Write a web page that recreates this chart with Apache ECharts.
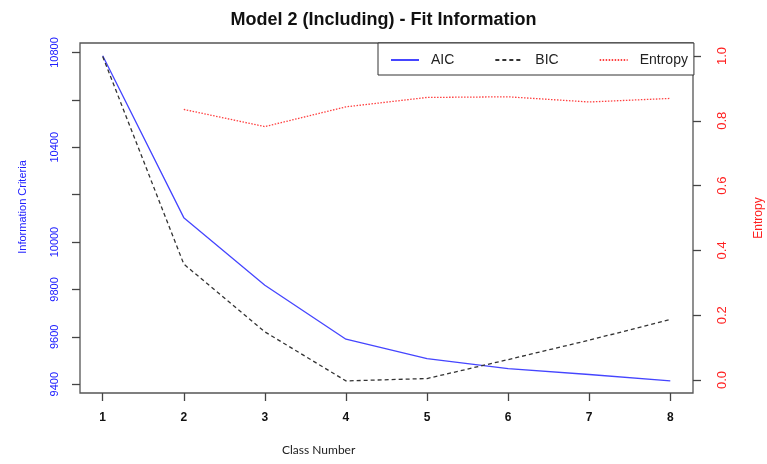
<!DOCTYPE html>
<html>
<head>
<meta charset="utf-8">
<script src="https://cdn.jsdelivr.net/npm/echarts@6.0.0/dist/echarts.min.js"></script>
<style>
  html, body { margin: 0; padding: 0; background: #fff; }
  #box { width: 767px; height: 464px; }
</style>
</head>
<body>
<div id="box"></div>
<script>
// values
const classes = [1, 2, 3, 4, 5, 6, 7, 8];
const aic = [10786, 10103, 9818, 9590, 9508, 9466, 9441, 9414];
const bic = [10783, 9907, 9621, 9414, 9424, 9504, 9586, 9673];
const entropy = [null, 0.835, 0.782, 0.843, 0.872, 0.874, 0.858, 0.869];

const icTicks = [9400, 9600, 9800, 10000, 10200, 10400, 10600, 10800];
const icLabels = [9400, 9600, 9800, 10000, 10400, 10800];
const entropyTicks = [0, 0.2, 0.4, 0.6, 0.8, 1.0];

const pairs = (vals) => classes.map((c, i) => [c, vals[i]]).filter(p => p[1] != null);

const font = 'Liberation Sans, Arial, sans-serif';
const chart = echarts.init(document.getElementById('box'));

chart.setOption({
    animation: false,
    title: [
        {
            text: 'Model 2 (Including) - Fit Information',
            left: 'center',
            top: 11,
            padding: 0,
            textStyle: { fontFamily: font, fontSize: 18, fontWeight: 'bold', color: '#111' }
        },
        {
            text: 'Class Number',
            left: 282,
            top: 444,
            padding: 0,
            textStyle: { fontFamily: 'Lato, sans-serif', fontSize: 12, fontWeight: 'normal', color: '#222' }
        }
    ],
    legend: {
        left: 378,
        top: 43,
        padding: [10, 6, 8, 12],
        itemGap: 40,
        itemWidth: 28,
        itemHeight: 10,
        borderColor: '#333',
        borderWidth: 1,
        backgroundColor: '#fff',
        itemStyle: { opacity: 0 },
        textStyle: { fontFamily: font, fontSize: 14, color: '#222', padding: [0, 0, 0, 7], lineHeight: 14 }
    },
    grid: {
        left: 80,
        top: 43,
        width: 613,
        height: 350,
        outerBoundsMode: 'none',
        show: true,
        borderColor: '#555',
        borderWidth: 1.3
    },
    xAxis: {
        type: 'value',
        min: 0.72,
        max: 8.28,
        axisLine: { show: false, onZero: false },
        splitLine: { show: false },
        axisTick: { customValues: classes, length: 8, lineStyle: { color: '#444', width: 1.3 } },
        axisLabel: {
            customValues: classes,
            margin: 19,
            fontFamily: font,
            fontSize: 12,
            fontWeight: 'bold',
            color: '#111'
        }
    },
    yAxis: [
        {
            type: 'value',
            min: 9363,
            max: 10840,
            name: 'Information Criteria',
            nameLocation: 'middle',
            nameGap: 52,
            nameTextStyle: { fontFamily: font, fontSize: 11, color: '#2020ff', padding: [0, 0, 0, 22] },
            axisLine: { show: false, onZero: false },
            splitLine: { show: false },
            axisTick: { customValues: icTicks, length: 8, lineStyle: { color: '#444', width: 1.3 } },
            axisLabel: {
                customValues: icLabels,
                rotate: 90,
                margin: 20,
                fontFamily: font,
                fontSize: 11,
                color: '#2020ff',
                formatter: v => String(v)
            }
        },
        {
            type: 'value',
            min: -0.04,
            max: 1.04,
            position: 'right',
            name: 'Entropy',
            nameLocation: 'middle',
            nameGap: 60,
            nameTextStyle: { fontFamily: font, fontSize: 12, color: '#ff2020' },
            axisLine: { show: false, onZero: false },
            splitLine: { show: false },
            axisTick: { customValues: entropyTicks, length: 8, lineStyle: { color: '#444', width: 1.3 } },
            axisLabel: {
                customValues: entropyTicks,
                rotate: 90,
                margin: 23,
                fontFamily: font,
                fontSize: 13,
                color: '#ff2020',
                formatter: v => v.toFixed(1)
            }
        }
    ],
    series: [
        {
            name: 'AIC',
            type: 'line',
            symbol: 'none',
            data: pairs(aic),
            lineStyle: { color: '#4545ff', width: 1.3 },
            itemStyle: { color: '#4545ff' }
        },
        {
            name: 'BIC',
            type: 'line',
            symbol: 'none',
            data: pairs(bic),
            lineStyle: { color: '#333', width: 1.3, type: [4, 3] },
            itemStyle: { color: '#333' }
        },
        {
            name: 'Entropy',
            type: 'line',
            symbol: 'none',
            yAxisIndex: 1,
            data: pairs(entropy),
            lineStyle: { color: '#ff4040', width: 1.3, type: [1.5, 1.5] },
            itemStyle: { color: '#ff4040' }
        }
    ]
});
</script>
</body>
</html>
